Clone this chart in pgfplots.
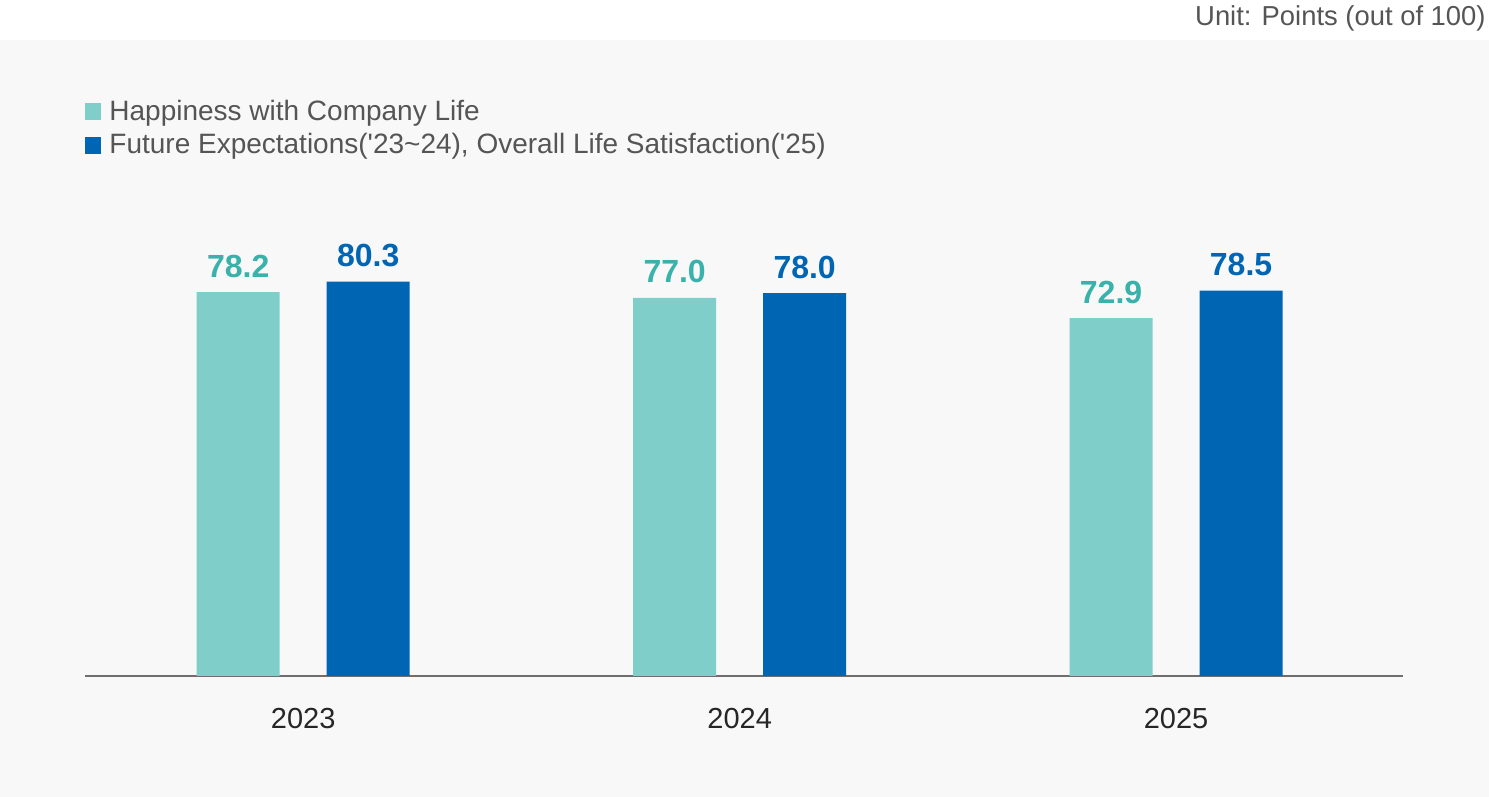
\documentclass[border=0pt]{standalone}
\usepackage{fontspec}
\setmainfont{Liberation Sans}
\usepackage{pgfplots}
\pgfplotsset{compat=1.18}
\definecolor{bgGrey}{HTML}{F8F8F8}
\definecolor{txtGrey}{HTML}{555555}
\definecolor{tealBar}{HTML}{80CECA}
\definecolor{tealTxt}{HTML}{38B2AA}
\definecolor{blueBar}{HTML}{0066B3}
\definecolor{axGrey}{HTML}{6E6E6E}
\begin{document}
\begin{tikzpicture}[x=0.5pt,y=0.5pt]
\fill[white] (0,0) rectangle (1489,797);
\fill[bgGrey] (0,0) rectangle (1489,757);
\node[anchor=base east, inner sep=0, text=txtGrey, font=\fontsize{13.7}{16}\selectfont] at (1486,771) {Unit: Points (out of 100)};
\fill[tealBar] (85,677) rectangle (101,694);
\fill[blueBar] (85,643) rectangle (101,660);
\node[anchor=base west, inner sep=0, text=txtGrey, font=\fontsize{14}{16}\selectfont] at (109,676) {Happiness with Company Life};
\node[anchor=base west, inner sep=0, text=txtGrey, font=\fontsize{14}{16}\selectfont] at (109,643) {Future Expectations(\textquotesingle 23\textasciitilde 24), Overall Life Satisfaction(\textquotesingle 25)};
\begin{axis}[
  at={(42.5pt,60.5pt)}, anchor=south west,
  scale only axis, width=659pt, height=245.5pt,
  xmin=-0.5, xmax=2.52, ymin=0, ymax=100,
  axis x line=bottom, axis y line=none,
  x axis line style={-, draw=axGrey, line width=0.75pt},
  xtick={0,1,2}, xticklabels={2023,2024,2025},
  major tick length=0pt, ytick=\empty,
  xticklabel style={anchor=base, yshift=-26.5pt, font=\fontsize{14.5}{16}\selectfont, text=black!85},
  /pgf/number format/.cd, fixed, fixed zerofill, precision=1, assume math mode=true,
  /pgfplots/.cd,
  ybar, bar width=41.5pt,
  nodes near coords,
  every node near coord/.append style={anchor=base, yshift=7.5pt, font=\bfseries\fontsize{16}{18}\selectfont},
  clip=false,
]
\addplot[fill=tealBar, draw=none, bar shift=-32.5pt, every node near coord/.append style={text=tealTxt}] coordinates {(0,78.2) (1,77.0) (2,72.9)};
\addplot[fill=blueBar, draw=none, bar shift=32.5pt, every node near coord/.append style={text=blueBar}] coordinates {(0,80.3) (1,78.0) (2,78.5)};
\end{axis}
\end{tikzpicture}
\end{document}
